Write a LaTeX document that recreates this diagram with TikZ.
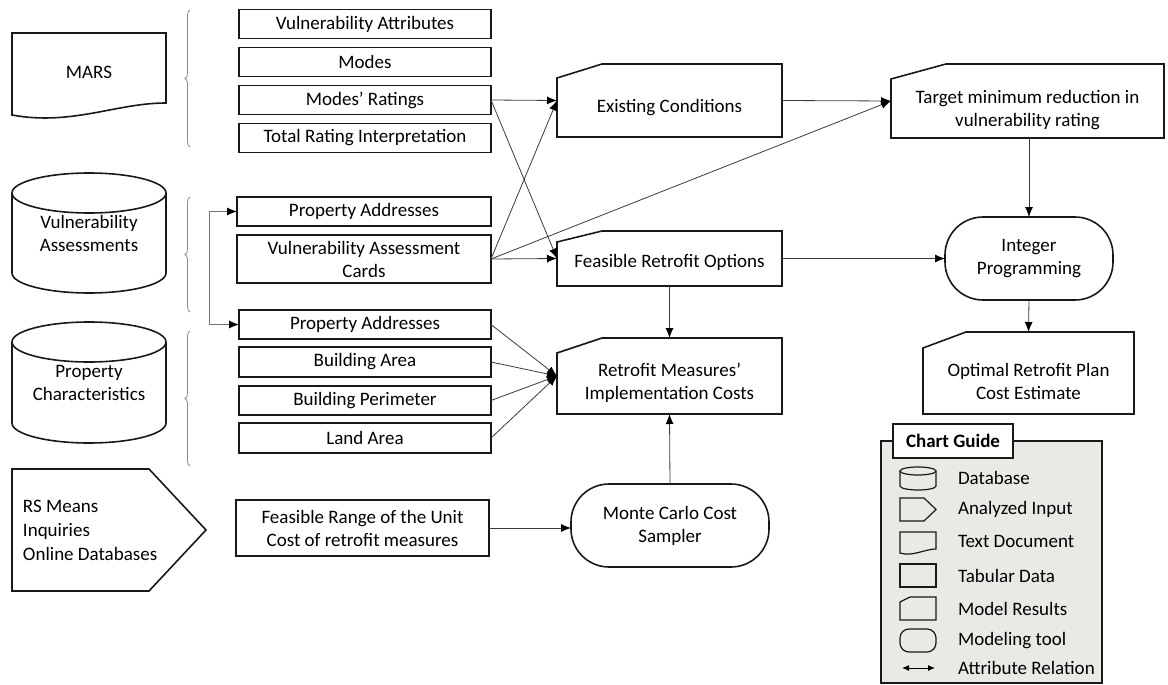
\documentclass[tikz,border=0pt]{standalone}
\usepackage{fontspec}
\setmainfont{Carlito}
\usetikzlibrary{arrows.meta,calc,decorations.pathreplacing}
\definecolor{guidefill}{HTML}{E9EAE6}
\definecolor{connc}{HTML}{3A3A3A}
\begin{document}
\begin{tikzpicture}[x=1pt,y=-1pt,
  every node/.style={font=\fontsize{19}{23}\selectfont, inner sep=0pt, outer sep=0pt, align=center},
  boxline/.style={draw=black!90, line width=1.6pt},
  tabbox/.style={boxline, fill=white, minimum width=252pt, minimum height=29pt},
  shapebox/.style 2 args={minimum width=#1, minimum height=#2},
  tool/.style={boxline, rounded corners=38pt},
  conn/.style={draw=connc, line width=0.8pt, -{Latex[length=10pt,width=8pt,color=black]}},
  relation/.style={draw=black!55, line width=0.9pt, {Latex[length=10pt,width=8pt,color=black]}-{Latex[length=10pt,width=8pt,color=black]}},
  bracemark/.style={draw=black!45, line width=0.8pt, decorate, decoration={brace, amplitude=5pt}},
  icon/.style={draw=black!90, line width=1.2pt},
  guidelab/.style={anchor=west},
]
\useasboundingbox (0,0) rectangle (1168,685);

% ---------- sources ----------
\node[shapebox={154pt}{78pt}] (mars) at (89,72) {MARS};
\draw[boxline] (mars.north west) -- (mars.north east) -- ($(mars.south east)+(0,-8)$)
  .. controls ($(mars.south east)+(-50,-8)$) and ($(mars.south west)+(60,15)$) .. ($(mars.south west)+(0,4)$) -- cycle;

\node[shapebox={154pt}{120pt}] (vas) at (89,233) {Vulnerability\\Assessments};
\node[shapebox={154pt}{121pt}] (pc) at (89,382.5) {Property\\Characteristics};
\foreach \n in {vas,pc}{
  \draw[boxline] ($(\n.north)+(0,20)$) ellipse [x radius=77pt, y radius=20pt];
  \draw[boxline] ($(\n.north west)+(0,20)$) -- ($(\n.south west)+(0,-20)$)
    arc [start angle=180, end angle=360, x radius=77pt, y radius=20pt] -- ($(\n.north east)+(0,20)$);
}

\draw[boxline] (12,469) -- (149,469) -- (206,530) -- (149,591) -- (12,591) -- cycle;
\node[anchor=west, align=left, font=\fontsize{19}{24}\selectfont] (rs) at (23,530) {RS Means\\Inquiries\\Online Databases};

% ---------- braces ----------
\draw[bracemark] (190,147) -- (190,10);
\draw[bracemark] (190,312) -- (190,197);
\draw[bracemark] (190,466) -- (190,331);

% ---------- tabular data ----------
\node[tabbox] (va) at (365,24) {Vulnerability Attributes};
\node[tabbox] (modes) at (365,62) {Modes};
\node[tabbox] (mr) at (365,100) {Modes’ Ratings};
\node[tabbox] (tri) at (365,138) {Total Rating Interpretation};
\node[tabbox, minimum width=254pt] (pa1) at (364,211.5) {Property Addresses};
\node[tabbox, minimum width=254pt, minimum height=48pt] (vac) at (364,259) {Vulnerability Assessment\\Cards};
\node[tabbox] (pa2) at (365,324.5) {Property Addresses};
\node[tabbox, minimum height=30pt] (ba) at (365,362) {Building Area};
\node[tabbox] (bp) at (365,400.5) {Building Perimeter};
\node[tabbox, minimum height=30pt] (la) at (365,438) {Land Area};
\node[tabbox, minimum width=253pt, minimum height=56pt] (fr) at (362.5,528) {Feasible Range of the Unit\\Cost of retrofit measures};

% ---------- model results ----------
\node[shapebox={225pt}{73pt}, label={[yshift=-7pt]center:Existing Conditions}] (ec) at (669.5,100.5) {};
\node[shapebox={225pt}{55pt}, label={[yshift=-4pt]center:Feasible Retrofit Options}] (fro) at (669.5,258.5) {};
\node[shapebox={225pt}{76pt}, label={[yshift=-7pt]center:{Retrofit Measures’\\Implementation Costs}}] (rmic) at (669.5,376) {};
\node[shapebox={273pt}{74pt}, label={[yshift=-9pt]center:{Target minimum reduction in\\vulnerability rating}}] (tgt) at (1027.5,101) {};
\node[shapebox={211pt}{82pt}, label={[yshift=-8pt]center:{Optimal Retrofit Plan\\Cost Estimate}}] (opt) at (1028.5,373) {};
\foreach \n/\dx/\dy in {ec/45/14, fro/45/11, rmic/45/15, tgt/55/15, opt/43/16}{
  \draw[boxline] ($(\n.north west)+(0,\dy)$) -- ($(\n.north west)+(\dx,0)$) -- (\n.north east)
    -- (\n.south east) -- (\n.south west) -- cycle;
}

% ---------- modeling tools ----------
\node[tool, minimum width=198pt, minimum height=83pt] (mc) at (670,525.5) {Monte Carlo Cost\\Sampler};
\node[tool, minimum width=168pt, minimum height=83pt] (ip) at (1029,258.5) {Integer\\Programming};

% ---------- connectors ----------
\draw[relation] (pa1.west) -- ++(-28,0) |- (pa2.west);
\draw[conn] (mr.east) -- (ec.west);
\draw[conn] (mr.east) -- (fro.west);
\draw[conn] (vac.east) -- (ec.west);
\draw[conn] (vac.east) -- (fro.west);
\draw[conn] (vac.east) -- (tgt.west);
\draw[conn] (ec.east) -- (tgt.west);
\draw[conn] (fro.east) -- (ip.west);
\draw[conn] (fro.south) -- (rmic.north);
\foreach \n in {pa2,ba,bp,la} \draw[conn] (\n.east) -- (rmic.west);
\draw[conn] (fr.east) -- (fr.east -| mc.west);
\draw[conn] (mc.north) -- (rmic.south);
\draw[conn] (tgt.south -| ip.north) -- (ip.north);
\draw[conn] (ip.south) -- (opt.north);

% ---------- chart guide ----------
\node[draw=black!90, line width=1.4pt, fill=guidefill, minimum width=221pt, minimum height=242pt] (guide) at (991.5,562) {};
\node[draw=black!90, line width=1.4pt, fill=white, minimum width=120pt, minimum height=34pt, font=\fontsize{19}{23}\selectfont\bfseries] (gtitle) at (953,441) {Chart Guide};

\draw[icon] (918,471) ellipse [x radius=18pt, y radius=4pt];
\draw[icon] (900,471) -- (900,486) arc [start angle=180, end angle=360, x radius=18pt, y radius=4pt] -- (936,471);
\draw[icon] (900,498) -- (924,498) -- (936,509.5) -- (924,521) -- (900,521) -- cycle;
\draw[icon] (900,532) -- (936,532) -- (936,549) .. controls (925,549) and (912,557) .. (900,553) -- cycle;
\draw[icon] (900,564) rectangle (936,587);
\draw[icon] (900,602) -- (910,597) -- (936,597) -- (936,620) -- (900,620) -- cycle;
\draw[icon, rounded corners=9pt] (900,629) rectangle (936,652);
\draw[draw=black, line width=1pt, {Latex[length=7pt,width=6pt]}-{Latex[length=7pt,width=6pt]}] (902,668) -- (935,668);

\node[guidelab] (g1) at (958,478) {Database};
\node[guidelab] (g2) at (958,509) {Analyzed Input};
\node[guidelab] (g3) at (958,541) {Text Document};
\node[guidelab] (g4) at (958,576) {Tabular Data};
\node[guidelab] (g5) at (958,609) {Model Results};
\node[guidelab] (g6) at (958,641) {Modeling tool};
\node[guidelab] (g7) at (958,668) {Attribute Relation};
\end{tikzpicture}
\end{document}
